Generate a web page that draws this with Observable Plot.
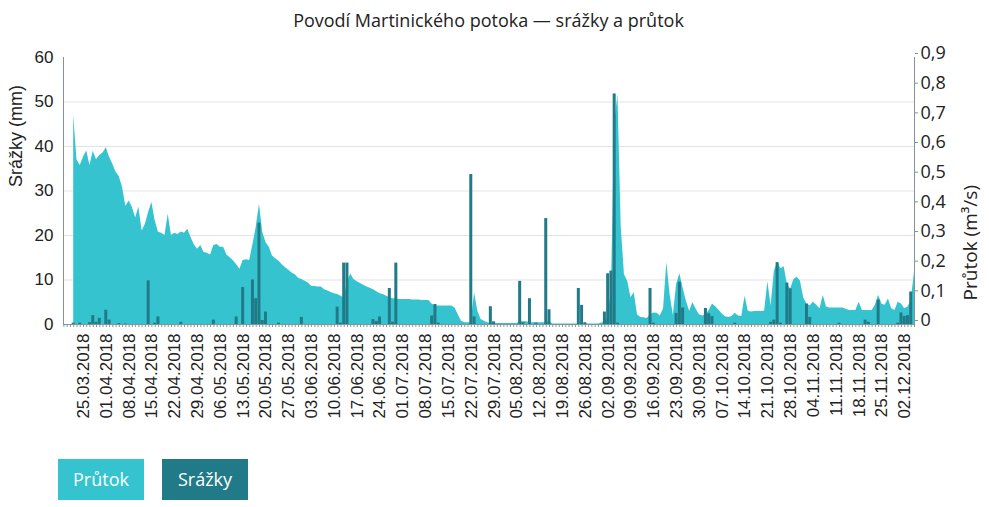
<!DOCTYPE html>
<html><head><meta charset="utf-8">
<script src="https://cdn.jsdelivr.net/npm/d3@7"></script>
<script src="https://cdn.jsdelivr.net/npm/@observablehq/plot@0.6"></script>
<style>
body{margin:0;background:#fff;}
#title{height:40px;line-height:40px;padding-left:63px;width:851px;text-align:center;font-family:"Open Sans",sans-serif;font-size:18px;color:#222;}
#chart svg{display:block;}
#legend{display:flex;gap:18px;margin:19px 0 0 58px;}
.lg{width:86px;height:41px;line-height:41px;text-align:center;color:#fff;font-family:"Open Sans",sans-serif;font-size:18px;}
</style></head><body>
<div id="title">Povodí Martinického potoka — srážky a průtok</div>
<div id="chart"></div>
<div id="legend"><div class="lg" style="background:#35c4cf">Průtok</div><div class="lg" style="background:#217a87">Srážky</div></div>
<script>
// Průtok (m3/s), daily values starting 22.03.2018
const startDate = "2018-03-22";
const prutok = [
  0.705,0.555,0.536,0.564,0.585,0.536,0.584,0.555,0.570,0.578,
  0.596,0.564,0.540,0.513,0.498,0.462,0.398,0.416,0.395,0.359,
  0.395,0.315,0.338,0.378,0.411,0.350,0.311,0.308,0.300,0.372,
  0.300,0.308,0.303,0.312,0.308,0.321,0.293,0.269,0.254,0.266,
  0.243,0.240,0.234,0.266,0.270,0.260,0.260,0.234,0.225,0.215,
  0.201,0.186,0.216,0.218,0.216,0.270,0.327,0.405,0.311,0.276,
  0.260,0.231,0.222,0.213,0.201,0.191,0.183,0.174,0.168,0.156,
  0.152,0.146,0.140,0.129,0.128,0.126,0.126,0.117,0.113,0.108,
  0.104,0.101,0.095,0.090,0.143,0.170,0.152,0.144,0.138,0.132,
  0.126,0.122,0.117,0.110,0.104,0.101,0.095,0.090,0.087,0.086,
  0.084,0.084,0.084,0.084,0.083,0.083,0.083,0.081,0.081,0.081,
  0.068,0.062,0.062,0.062,0.062,0.062,0.062,0.056,0.033,0.011,
  0.006,0.006,0.006,0.107,0.045,0.017,0.011,0.006,0.003,0.003,
  0.003,0.003,0.003,0.003,0.003,0.003,0.003,0.009,0.009,0.009,
  0.006,0.006,0.006,0.006,0.006,0.006,0.011,0.002,0.002,0.002,
  0.002,0.002,0.002,0.002,0.002,0.002,0.002,0.002,0.002,0.002,
  0.002,0.002,0.005,0.008,0.023,0.120,0.675,0.776,0.330,0.168,
  0.146,0.090,0.107,0.033,0.024,0.023,0.020,0.033,0.039,0.038,
  0.029,0.053,0.209,0.101,0.030,0.135,0.171,0.123,0.078,0.045,
  0.074,0.051,0.033,0.029,0.033,0.047,0.069,0.060,0.048,0.035,
  0.026,0.024,0.027,0.038,0.029,0.027,0.095,0.045,0.042,0.044,
  0.044,0.044,0.045,0.143,0.063,0.180,0.210,0.188,0.195,0.135,
  0.120,0.152,0.159,0.147,0.090,0.068,0.063,0.075,0.065,0.053,
  0.098,0.059,0.056,0.056,0.056,0.056,0.056,0.051,0.047,0.047,
  0.047,0.075,0.047,0.047,0.047,0.047,0.065,0.099,0.068,0.065,
  0.086,0.053,0.047,0.075,0.069,0.053,0.059,0.081,0.176
];
// Srážky (mm)
const srazkyDatum = [
  "2018-03-22","2018-03-24","2018-03-27","2018-03-28","2018-03-29","2018-03-30","2018-04-01","2018-04-02",
  "2018-04-05","2018-04-07","2018-04-14","2018-04-16","2018-04-17","2018-04-24","2018-05-04","2018-05-11",
  "2018-05-13","2018-05-16","2018-05-17","2018-05-18","2018-05-19","2018-05-20","2018-05-24","2018-05-31",
  "2018-06-11","2018-06-12","2018-06-13","2018-06-14","2018-06-22","2018-06-23","2018-06-24","2018-06-27",
  "2018-06-28","2018-06-29","2018-07-10","2018-07-11","2018-07-12","2018-07-22","2018-07-23","2018-07-28",
  "2018-07-29","2018-08-06","2018-08-07","2018-08-09","2018-08-11","2018-08-14","2018-08-15","2018-08-24",
  "2018-08-25","2018-08-26","2018-09-01","2018-09-02","2018-09-03","2018-09-04","2018-09-05","2018-09-15",
  "2018-09-16","2018-09-23","2018-09-24","2018-09-25","2018-10-02","2018-10-03","2018-10-04","2018-10-11",
  "2018-10-22","2018-10-23","2018-10-24","2018-10-25","2018-10-27","2018-10-28","2018-11-02","2018-11-03",
  "2018-11-12","2018-11-20","2018-11-21","2018-11-24","2018-11-30","2018-12-01","2018-12-02","2018-12-03",
  "2018-12-04"
];
const srazkyMm = [
  0.3,0.3,0.4,2.0,0.5,1.4,3.2,1.0,
  0.2,0.1,9.8,0.3,1.7,0.5,1.0,1.7,
  8.3,10.0,5.8,22.8,0.9,2.8,0.3,1.6,
  3.9,0.3,13.8,13.8,1.1,0.7,1.7,8.1,
  0.5,13.8,1.9,4.5,0.3,33.7,1.7,4.0,
  0.6,9.7,0.4,5.8,0.3,23.8,3.3,8.1,
  4.3,0.4,2.8,11.4,12.0,51.8,0.3,8.1,
  0.3,2.5,9.5,3.7,3.6,2.4,1.8,0.3,
  0.5,1.0,13.9,0.3,9.3,8.0,4.6,1.6,
  0.3,1.0,0.5,5.5,0.3,2.6,1.8,2.0,
  7.3
];
const srazkyTicks = [0,10,20,30,40,50,60];
const prutokTicks = [0,0.1,0.2,0.3,0.4,0.5,0.6,0.7,0.8,0.9];
const firstLabel = "2018-03-25", lastLabel = "2018-12-02";

const DAY = 864e5;
const t0 = new Date(startDate + "T00:00Z");
const flow = prutok.map((q, i) => ({date: new Date(+t0 + i * DAY), q}));
const rain = srazkyDatum.map((s, i) => ({date: new Date(s + "T00:00Z"), mm: srazkyMm[i]}));
const ratio = prutokTicks[prutokTicks.length - 1] / srazkyTicks[srazkyTicks.length - 1]; // 0.015
const x0 = new Date(+t0 - 3.13 * DAY), x1 = flow[flow.length - 1].date;
const dayTicks = d3.utcDay.range(new Date(+t0 - 3 * DAY), new Date(+x1 + 1));
const weekTicks = d3.utcDay.every(1).range(new Date(firstLabel + "T00:00Z"), new Date(+new Date(lastLabel + "T00:00Z") + 1)).filter((d, i) => i % 7 === 0);
const axisCol = "#849494";

const chart = Plot.plot({
  width: 989, height: 400,
  marginTop: 17, marginBottom: 116, marginLeft: 63, marginRight: 75,
  x: {type: "utc", domain: [x0, x1]},
  y: {domain: [0, 60]},
  style: {fontFamily: "'Liberation Sans', Arial, sans-serif", fontSize: "17px", color: "#222", background: "white", overflow: "visible"},
  marks: [
    Plot.gridY([10, 20, 30, 40, 50], {stroke: "#e3e3e3", strokeOpacity: 1}),
    Plot.areaY(flow, {x: "date", y: d => d.q / ratio, fill: "#35c4cf", curve: "linear"}),
    Plot.rectY(rain, {x1: d => new Date(+d.date - 0.46 * DAY), x2: d => new Date(+d.date + 0.46 * DAY), y: "mm", fill: "#217a87"}),
    Plot.ruleY([0], {stroke: axisCol}),
    Plot.ruleX([x0], {y1: 0, y2: 60, stroke: axisCol}),
    Plot.ruleX([x1], {y1: 0, y2: 60, stroke: axisCol}),
    Plot.axisX({ticks: dayTicks, tickSize: 3, tickFormat: () => "", stroke: axisCol, label: null}),
    Plot.axisX({ticks: weekTicks, tickSize: 0, tickPadding: 9, tickRotate: -90, tickFormat: d3.utcFormat("%d.%m.%Y"), label: null}),
    Plot.axisY({ticks: srazkyTicks, tickSize: 0, tickPadding: 10, label: null}),
    Plot.axisY({anchor: "right", ticks: prutokTicks.map(v => v / ratio), tickFormat: v => { const f = Math.round(v * ratio * 10) / 10; return f === 0 ? "0" : String(f).replace(".", ","); },
      tickSize: 3, tickPadding: 3, dy: -4, fontFamily: "'Open Sans', sans-serif", fontSize: 18, stroke: axisCol, label: null}),
    Plot.text(["Srážky (mm)"], {frameAnchor: "left", dx: -47, dy: -4, rotate: -90, fontSize: 18, fill: "#222"}),
    Plot.text(["Průtok (m³/s)"], {frameAnchor: "right", dx: 56, dy: -6, rotate: -90, fontSize: 19, fontFamily: "'Open Sans', sans-serif", fill: "#222"})
  ]
});
document.getElementById("chart").appendChild(chart);
</script>
</body></html>
